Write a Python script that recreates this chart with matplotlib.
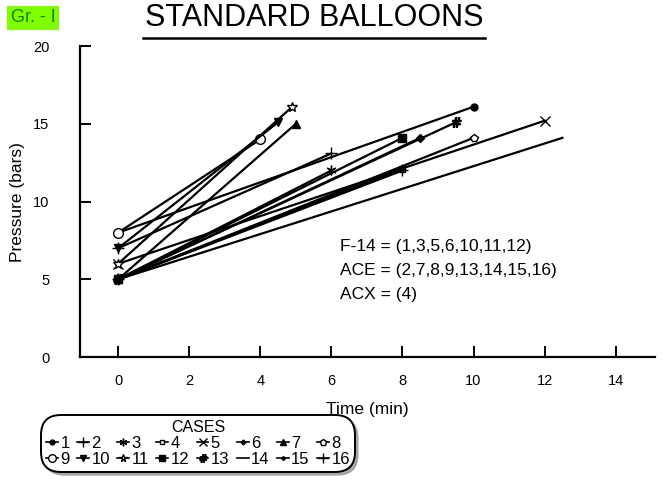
import matplotlib
matplotlib.use("Agg")
import matplotlib.pyplot as plt
from matplotlib.lines import Line2D

plt.rcParams['font.family'] = ['Liberation Sans', 'DejaVu Sans']

# case number -> (start time, start pressure, end time, end pressure)
cases = list(range(1, 17))
t_start = [0] * 16
p_start = [8, 7, 5, 5, 6, 5, 5, 5, 8, 7, 6, 5, 5, 5, 5, 5]
t_end = [10, 6, 6, 8, 12, 8.5, 5, 10, 4, 4.5, 4.9, 8, 9.5, 12.5, 8, 8]
p_end = [16.1, 13.1, 12.0, 12.1, 15.2, 14.1, 15.0, 14.1, 14.0, 15.1, 16.1, 14.1, 15.1, 14.1, 12.1, 12.0]

markers = ['o', '+', (6, 2, 0), 's', 'x', 'D', '^', 'p', 'o', 'v', '*', 's', '$\\#$', 'None', '.', '+']
filled = [True, True, True, False, True, True, True, False, False, True, False, True, True, True, True, True]
sizes = [5, 8, 7, 5, 7, 4, 6, 6, 7, 6, 7, 6, 7, 5, 6, 8]

fig = plt.figure(figsize=(6.63, 4.8), dpi=100)
ax = fig.add_axes([0.1207, 0.256, 0.867, 0.648])

handles = []
for i, c in enumerate(cases):
    fc = 'black' if filled[i] else 'white'
    ax.plot([t_start[i], t_end[i]], [p_start[i], p_end[i]], color='black', lw=1.6,
            marker=markers[i], ms=sizes[i], mfc=fc, mec='black', mew=1.0, zorder=3)
    handles.append(Line2D([], [], color='black', lw=1.2, marker=markers[i], ms=sizes[i] - 1.5,
                          mfc=fc, mec='black', label=str(c)))

# legend fills column by column; reorder so rows read 1..8 and 9..16
order = []
for j in range(8):
    order += [j, j + 8]
handles = [handles[k] for k in order]

ax.set_xlim(-1.07, 15.1)
ax.set_ylim(0, 20)
ax.set_xticks(range(0, 15, 2))
ax.set_yticks(range(0, 21, 5))
ax.spines['top'].set_visible(False)
ax.spines['right'].set_visible(False)
ax.spines['left'].set_linewidth(1.6)
ax.spines['bottom'].set_linewidth(1.6)
ax.tick_params(direction='in', length=8, width=1.4, labelsize=10.5, pad=12)
ax.tick_params(axis='y', pad=22)
ax.set_xlabel('Time (min)', fontsize=12.5, labelpad=10)
ax.set_ylabel('Pressure (bars)', fontsize=12.5, labelpad=6)

ax.text(6.24, 7.6, 'F-14 = (1,3,5,6,10,11,12)\nACE = (2,7,8,9,13,14,15,16)\nACX = (4)',
        fontsize=12.5, va='top', ha='left', linespacing=1.75)

fig.text(0.474, 0.962, 'STANDARD BALLOONS', fontsize=22, ha='center', va='center')
fig.add_artist(Line2D([0.216, 0.732], [0.921, 0.921], color='black', lw=1.8))
fig.text(0.016, 0.963, 'Gr. - I', fontsize=13, color='#1a7a00', ha='left', va='center',
         bbox=dict(boxstyle='square,pad=0.2', fc='#80ff00', ec='none'))

leg = fig.legend(handles=handles, ncol=8, loc='lower left', bbox_to_anchor=(0.066, 0.022),
                 title='CASES', title_fontsize=11.5, fontsize=12, handlelength=0.7,
                 handletextpad=0.15, columnspacing=0.45, labelspacing=0.05,
                 borderpad=0.15, borderaxespad=0.0, fancybox=True,
                 shadow={'color': '0.6', 'alpha': 0.8},
                 frameon=True, edgecolor='black')
leg.get_frame().set_linewidth(1.4)
leg.get_frame().set_boxstyle('round,pad=0.15,rounding_size=1.2')
leg.get_title().set_fontfamily(['Liberation Sans', 'DejaVu Sans'])

fig.savefig('out.png', dpi=100)
